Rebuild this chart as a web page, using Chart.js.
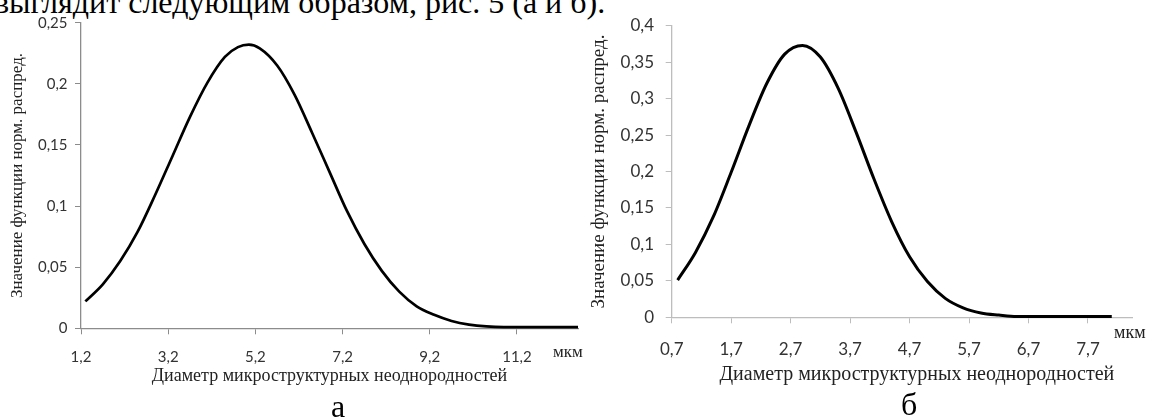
<!DOCTYPE html>
<html>
<head>
<meta charset="utf-8">
<script src="https://cdn.jsdelivr.net/npm/chart.js@4.4.1/dist/chart.umd.min.js"></script>
<style>
  html, body { margin: 0; padding: 0; background: #fff; }
  body { width: 1152px; height: 419px; position: relative; overflow: hidden; }
  .txt { position: absolute; font-family: "Liberation Serif", serif; font-size: 32px; line-height: 32px; color: #000; white-space: nowrap; }
  #chartA { position: absolute; left: 0; top: 0; }
  #chartB { position: absolute; left: 586px; top: 0; }
</style>
</head>
<body>
<div class="txt" style="left:-6px; top:-14px;">выглядит следующим образом, рис. 5 (а и б).</div>
<canvas id="chartA" width="590" height="400"></canvas>
<canvas id="chartB" width="566" height="400"></canvas>
<div class="txt" style="left:331px; top:390px;">а</div>
<div class="txt" style="left:901px; top:388px;">б</div>
<script>
// chart а
const aX = [1.3, 1.7, 2.1, 2.5, 2.9, 3.3, 3.7, 4.1, 4.5, 4.8, 5.05, 5.3, 5.7, 6.1, 6.5, 6.9, 7.3, 7.7, 8.1, 8.5, 8.9, 9.3, 9.7, 10.1, 10.5, 10.9, 11.3, 11.7, 12.1, 12.6];
const aY = [0.022, 0.036, 0.055, 0.079, 0.109, 0.141, 0.173, 0.201, 0.222, 0.230, 0.232, 0.229, 0.215, 0.191, 0.160, 0.128, 0.096, 0.069, 0.047, 0.030, 0.018, 0.011, 0.006, 0.003, 0.0015, 0.001, 0.001, 0.001, 0.001, 0.001];
const aTicksX = [1.2, 3.2, 5.2, 7.2, 9.2, 11.2];

// chart б
const bX = [0.8, 1.1, 1.4, 1.7, 2.0, 2.3, 2.6, 2.9, 3.2, 3.5, 3.8, 4.1, 4.4, 4.7, 5.0, 5.3, 5.6, 5.9, 6.2, 6.5, 6.8, 7.1, 7.4, 7.7, 8.1];
const bY = [0.051, 0.089, 0.138, 0.199, 0.263, 0.321, 0.361, 0.373, 0.357, 0.314, 0.254, 0.190, 0.131, 0.083, 0.049, 0.026, 0.013, 0.006, 0.003, 0.001, 0.001, 0.001, 0.001, 0.001, 0.001];
const bTicksX = [0.7, 1.7, 2.7, 3.7, 4.7, 5.7, 6.7, 7.7];

const yTitle = 'Значение функции норм. распред.';
const xTitle = 'Диаметр микроструктурных неоднородностей';
const unit = 'мкм';

const comma = v => String(+(+v).toFixed(2)).replace('.', ',');

const unitLabel = {
  id: 'unitLabel',
  afterDraw(chart, args, o) {
    const { ctx, chartArea } = chart;
    ctx.save();
    ctx.font = o.font;
    ctx.fillStyle = '#222';
    ctx.textAlign = 'left';
    ctx.textBaseline = 'middle';
    ctx.fillText(o.text, chartArea.right + o.dx, chartArea.bottom + o.dy);
    ctx.restore();
  }
};

function makeChart(id, s) {
  const ctx = document.getElementById(id).getContext('2d');
  return new Chart(ctx, {
    type: 'line',
    data: {
      datasets: [{
        data: s.xs.map((x, i) => ({ x: x, y: s.ys[i] })),
        borderColor: '#000',
        borderWidth: s.lw,
        pointRadius: 0,
        fill: false,
        cubicInterpolationMode: 'monotone',
        clip: false
      }]
    },
    options: {
      responsive: false,
      animation: false,
      layout: { padding: { left: 0, top: s.top, right: s.right, bottom: 0 } },
      plugins: {
        legend: { display: false },
        tooltip: { enabled: false },
        unitLabel: { text: unit, font: s.unitFont, dx: s.unitDx, dy: s.unitDy }
      },
      scales: {
        x: {
          type: 'linear',
          min: s.xMin,
          max: s.xMax,
          afterBuildTicks: sc => { sc.ticks = s.ticksX.map(v => ({ value: v })); },
          afterFit: sc => { sc.height = s.xH; },
          ticks: {
            callback: v => comma(v),
            font: { family: 'Lato', size: s.tickSize },
            color: '#333',
            padding: s.xPad,
            maxRotation: 0,
            autoSkip: false
          },
          grid: { drawOnChartArea: false, drawTicks: true, tickLength: 6, color: s.axisColor, lineWidth: 1 },
          border: { display: true, color: s.axisColor, width: 1.3 },
          title: {
            display: true,
            text: s.xTitleText,
            font: { family: 'Liberation Serif', size: s.xTitleSize },
            color: '#222',
            padding: { top: 0, bottom: s.xTitlePad }
          }
        },
        y: {
          min: 0,
          max: s.yMax,
          afterFit: sc => { sc.width = s.yW; },
          ticks: {
            stepSize: 0.05,
            callback: v => comma(v),
            font: { family: 'Lato', size: s.tickSize },
            color: '#333',
            padding: s.yPad
          },
          grid: { drawOnChartArea: false, drawTicks: true, tickLength: 6, color: s.axisColor, lineWidth: 1 },
          border: { display: true, color: s.axisColor, width: 1.3 },
          title: {
            display: true,
            text: yTitle,
            font: { family: 'Liberation Serif', size: s.yTitleSize },
            color: '#222',
            padding: { top: s.yTitlePad, bottom: 0 }
          }
        }
      }
    },
    plugins: [unitLabel]
  });
}

makeChart('chartA', {
  xs: aX, ys: aY, ticksX: aTicksX, xMin: 1.2, xMax: 12.6, yMax: 0.25,
  top: 22.7, right: 12, yW: 81, xH: 71.7, lw: 2.7,
  axisColor: '#8c8c8c', tickSize: 15, xPad: 13.4, yPad: 7.5,
  xTitleText: xTitle, xTitleSize: 18, xTitlePad: 12.5,
  yTitleSize: 17, yTitlePad: 7.8,
  unitFont: '17px "Liberation Serif"', unitDx: -25, unitDy: 24.4
});

makeChart('chartB', {
  xs: bX, ys: bY, ticksX: bTicksX, xMin: 0.7, xMax: 8.44, yMax: 0.4,
  top: 25.7, right: 20, yW: 85.7, xH: 82.7, lw: 3,
  axisColor: '#bdbdbd', tickSize: 17, xPad: 15.8, yPad: 11.7,
  xTitleText: '\u00a0\u00a0\u00a0\u00a0\u00a0\u00a0' + xTitle, xTitleSize: 20, xTitlePad: 13,
  yTitleSize: 19, yTitlePad: 1.9,
  unitFont: '18px "Liberation Serif"', unitDx: -18, unitDy: 15.7
});
</script>
</body>
</html>
